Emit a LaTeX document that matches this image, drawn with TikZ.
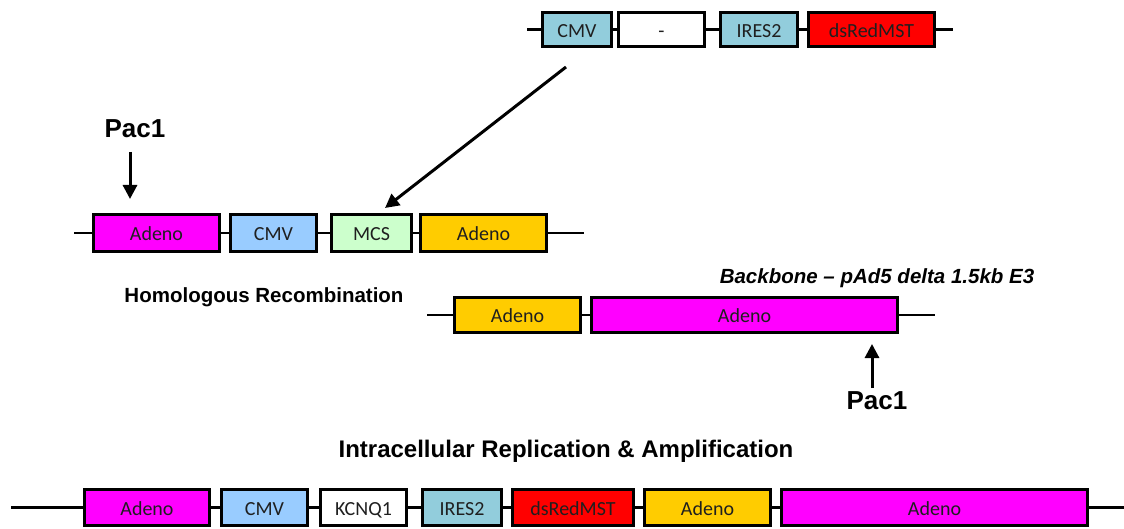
\documentclass[tikz,border=0pt]{standalone}
\usepackage{fontspec}
\setmainfont{Carlito}
\newfontfamily\arialfont{Liberation Sans}
\usetikzlibrary{arrows.meta}
\definecolor{mag}{HTML}{FF00FF}
\definecolor{cmvblue}{HTML}{99CCFF}
\definecolor{aqua}{HTML}{92CDDC}
\definecolor{mcsgreen}{HTML}{CCFFCC}
\definecolor{gold}{HTML}{FFCC00}
\definecolor{redbox}{HTML}{FF0000}
\begin{document}
\begin{tikzpicture}[x=1pt,y=-1pt,
  gene/.style={draw=black, line width=3pt, inner sep=0pt, minimum height=35pt,
    text height=16pt, text depth=0pt,
    font=\fontsize{20}{24}\selectfont, text=black!88},
  dna/.style={line width=2.5pt},
  arr/.style={line width=3pt, -{Triangle[length=14pt,width=14pt]}},
  lbl/.style={inner sep=0pt, text=black, font=\arialfont\bfseries\fontsize{20.5}{24}\selectfont},
  paclbl/.style={inner sep=0pt, text=black, font=\arialfont\bfseries\fontsize{26}{30}\selectfont}]
\useasboundingbox (0,0) rectangle (1124,529);

% ---------- top construct ----------
\coordinate (tl) at (527,29.5);
\coordinate (tr) at (953,29.5);
\node[gene, minimum height=34pt, fill=aqua, minimum width=69pt] (t1) at (577,29.5) {CMV};
\node[gene, minimum height=34pt, fill=white, minimum width=86pt] (t2) at (661.5,29.5) {-};
\node[gene, minimum height=34pt, fill=aqua, minimum width=77pt] (t3) at (759,29.5) {IRES2};
\node[gene, minimum height=34pt, fill=redbox, minimum width=126pt] (t4) at (871.5,29.5) {dsRedMST};
\draw[dna] (tl) -- (t1.west) (t1.east) -- (t2.west) (t2.east) -- (t3.west) (t3.east) -- (t4.west) (t4.east) -- (tr);

% ---------- shuttle vector ----------
\coordinate (ml) at (74,233);
\coordinate (mr) at (584,233);
\node[gene, minimum height=37pt, fill=mag, minimum width=126pt] (m1) at (156.5,233) {Adeno};
\node[gene, minimum height=37pt, fill=cmvblue, minimum width=86pt] (m2) at (273.5,233) {CMV};
\node[gene, minimum height=37pt, fill=mcsgreen, minimum width=80pt] (m3) at (371.5,233) {MCS};
\node[gene, minimum height=37pt, fill=gold, minimum width=126pt] (m4) at (483.5,233) {Adeno};
\draw[dna] (ml) -- (m1.west) (m1.east) -- (m2.west) (m2.east) -- (m3.west) (m3.east) -- (m4.west) (m4.east) -- (mr);

% Pac1 (left)
\node[paclbl] (pacA) at (135,129) {Pac1};
\coordinate (pacAt) at (130,152);
\coordinate (pacAh) at (130,199);
\draw[arr] (pacAt) -- (pacAh);

% big insertion arrow
\coordinate (insT) at (566,67);
\coordinate (insH) at (385,208);
\draw[arr] (insT) -- (insH);

% ---------- backbone ----------
\node[lbl] (hom) at (264,297) {Homologous Recombination};
\node[lbl, font=\arialfont\bfseries\itshape\fontsize{20.5}{24}\selectfont] (bb) at (877,278) {Backbone – pAd5 delta 1.5kb E3};
\coordinate (bl) at (427,315);
\coordinate (br) at (935,315);
\node[gene, fill=gold, minimum width=126pt] (b1) at (517.5,315) {Adeno};
\node[gene, fill=mag, minimum width=306pt] (b2) at (744.5,315) {Adeno};
\draw[dna] (bl) -- (b1.west) (b1.east) -- (b2.west) (b2.east) -- (br);

% Pac1 (right)
\node[paclbl] (pacB) at (877,401) {Pac1};
\coordinate (pacBt) at (872,388);
\coordinate (pacBh) at (872,344);
\draw[arr] (pacBt) -- (pacBh);

% ---------- final construct ----------
\node[lbl, font=\arialfont\bfseries\fontsize{24}{28}\selectfont] (amp) at (566,451) {Intracellular Replication \& Amplification};
\coordinate (fl) at (11,507.5);
\coordinate (fr) at (1124,507.5);
\node[gene, minimum height=36pt, fill=mag, minimum width=125pt] (f1) at (147,507.5) {Adeno};
\node[gene, minimum height=36pt, fill=cmvblue, minimum width=86pt] (f2) at (264.5,507.5) {CMV};
\node[gene, minimum height=36pt, fill=white, minimum width=86pt] (f3) at (363.5,507.5) {KCNQ1};
\node[gene, minimum height=36pt, fill=aqua, minimum width=79pt] (f4) at (462,507.5) {IRES2};
\node[gene, minimum height=36pt, fill=redbox, minimum width=121pt] (f5) at (573,507.5) {dsRedMST};
\node[gene, minimum height=36pt, fill=gold, minimum width=126pt] (f6) at (707.5,507.5) {Adeno};
\node[gene, minimum height=36pt, fill=mag, minimum width=306pt] (f7) at (934.5,507.5) {Adeno};
\draw[dna] (fl) -- (f1.west) (f1.east) -- (f2.west) (f2.east) -- (f3.west) (f3.east) -- (f4.west) (f4.east) -- (f5.west) (f5.east) -- (f6.west) (f6.east) -- (f7.west) (f7.east) -- (fr);
\end{tikzpicture}
\end{document}
